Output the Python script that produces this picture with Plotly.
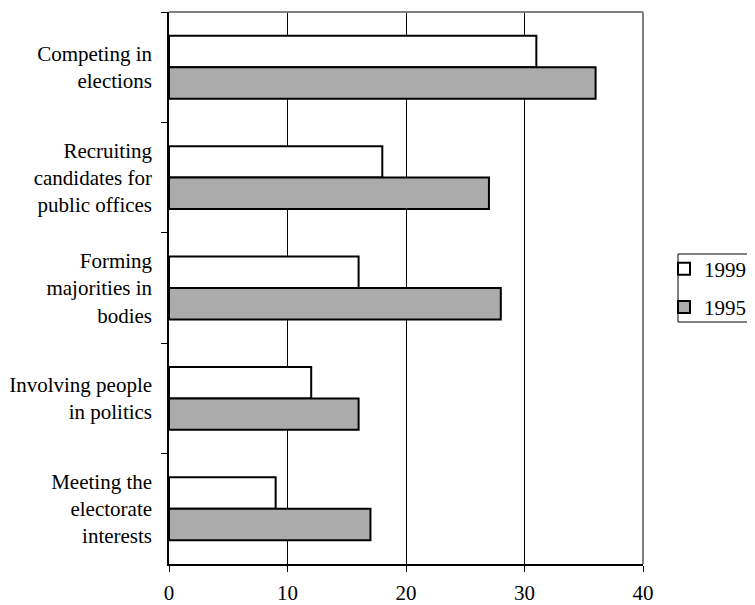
import plotly.graph_objects as go

categories = [
    "Competing in<br>elections",
    "Recruiting<br>candidates for<br>public offices",
    "Forming<br>majorities in<br>bodies",
    "Involving people<br>in politics",
    "Meeting the<br>electorate<br>interests",
]
values_1999 = [31, 18, 16, 12, 9]
values_1995 = [36, 27, 28, 16, 17]
x_ticks = [0, 10, 20, 30, 40]

FONT = "Liberation Serif, Times New Roman, serif"

# page has an 8px body margin; figure sized so it fits in the 755x605 window
W, H = 747, 597
L, R, T, B = 161, 112, 4, 41
PW, PH = W - L - R, H - T - B

fig = go.Figure()
fig.add_trace(go.Bar(
    y=categories, x=values_1999, orientation="h", name="1999",
    marker=dict(color="#FFFFFF", line=dict(color="#000000", width=2)),
    legendgroup="a",
))
fig.add_trace(go.Bar(
    y=categories, x=values_1995, orientation="h", name="1995",
    marker=dict(color="#ABABAB", line=dict(color="#000000", width=2)),
    legendgroup="b",
))

fig.update_layout(
    width=W, height=H,
    margin=dict(l=L, r=R, t=T, b=B, pad=0, autoexpand=False),
    paper_bgcolor="white", plot_bgcolor="white",
    font=dict(family=FONT, size=21, color="#000000"),
    barmode="group", bargap=0.43, bargroupgap=0,
    showlegend=True,
    legend=dict(
        x=(664 - 169) / PW, xanchor="left", y=0.5, yanchor="middle",
        borderwidth=0, bgcolor="rgba(0,0,0,0)",
        font=dict(family=FONT, size=21),
        traceorder="grouped", tracegroupgap=8,
        itemwidth=30,
    ),
    xaxis=dict(
        range=[0, 40], tickvals=x_ticks, ticktext=[str(v) for v in x_ticks],
        showgrid=True, gridcolor="#000000", gridwidth=1,
        showline=True, linecolor="#000000", linewidth=1.5,
        ticks="outside", ticklen=6, tickcolor="#000000",
        zeroline=False, fixedrange=True, automargin=False,
        ticklabelstandoff=3,
    ),
    yaxis=dict(
        autorange="reversed", type="category",
        showline=True, linecolor="#000000", linewidth=1.5,
        ticks="outside", ticklen=6, tickcolor="#000000", tickson="boundaries",
        showgrid=False, zeroline=False, ticklabelstandoff=11, automargin=False,
    ),
    shapes=[
        dict(type="line", xref="paper", yref="paper", x0=0, x1=1, y0=1, y1=1,
             line=dict(color="#808080", width=2), layer="above"),
        dict(type="line", xref="paper", yref="paper", x0=1, x1=1, y0=0, y1=1,
             line=dict(color="#808080", width=2), layer="above"),
        # legend frame
        dict(type="rect", xref="paper", yref="paper",
             x0=(678 - 169) / PW, x1=(760 - 169) / PW,
             y0=(564 - 322) / PH, y1=(564 - 254) / PH,
             line=dict(color="#000000", width=1), fillcolor="rgba(0,0,0,0)"),
    ],
)

fig.write_html("out.html")
